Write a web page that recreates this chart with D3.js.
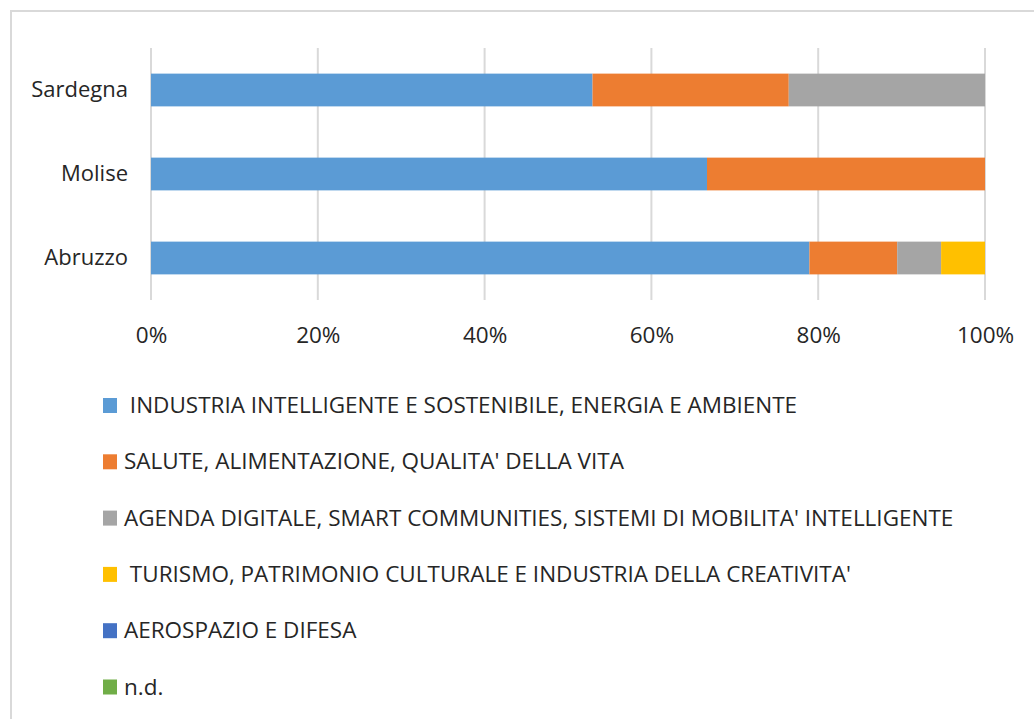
<!DOCTYPE html>
<html>
<head>
<meta charset="utf-8">
<script src="https://cdn.jsdelivr.net/npm/d3@7"></script>
<style>
  body { margin: 0; background: #fff; }
  svg text { font-family: "Open Sans", sans-serif; fill: #262626; }
</style>
</head>
<body>
<svg id="chart" width="1034" height="719"></svg>
<script>
const regions = ["Sardegna", "Molise", "Abruzzo"];
const seriesNames = [
  " INDUSTRIA INTELLIGENTE E SOSTENIBILE, ENERGIA E AMBIENTE",
  "SALUTE, ALIMENTAZIONE, QUALITA' DELLA VITA",
  "AGENDA DIGITALE, SMART COMMUNITIES, SISTEMI DI MOBILITA' INTELLIGENTE",
  " TURISMO, PATRIMONIO CULTURALE E INDUSTRIA DELLA CREATIVITA'",
  "AEROSPAZIO E DIFESA",
  "n.d."
];
const colors = ["#5b9bd5", "#ed7d31", "#a5a5a5", "#ffc000", "#4472c4", "#70ad47"];
// project counts per region, same order as seriesNames
const industria = [9, 2, 15];
const salute = [4, 1, 2];
const agenda = [4, 0, 1];
const turismo = [0, 0, 1];
const aerospazio = [0, 0, 0];
const nd = [0, 0, 0];
const xTicks = [0, 0.2, 0.4, 0.6, 0.8, 1];

const rows = regions.map((r, i) => ({
  region: r,
  s0: industria[i], s1: salute[i], s2: agenda[i],
  s3: turismo[i], s4: aerospazio[i], s5: nd[i]
}));
const keys = ["s0", "s1", "s2", "s3", "s4", "s5"];

const svg = d3.select("#chart");

// frame
svg.append("rect")
  .attr("x", 11).attr("y", 11)
  .attr("width", 1100).attr("height", 800)
  .attr("fill", "none")
  .attr("stroke", "#d9d9d9")
  .attr("stroke-width", 2);

const x = d3.scaleLinear().domain([0, 1]).range([151, 985]);
const y = d3.scaleBand().domain(regions).range([48, 300]).paddingInner(0.61).paddingOuter(0.305);

// gridlines
svg.append("g")
  .selectAll("line")
  .data(xTicks)
  .join("line")
  .attr("x1", d => x(d)).attr("x2", d => x(d))
  .attr("y1", 48).attr("y2", 300)
  .attr("stroke", "#d9d9d9")
  .attr("stroke-width", 2);

// bars
const stacked = d3.stack().keys(keys).offset(d3.stackOffsetExpand)(rows);
svg.append("g")
  .selectAll("g")
  .data(stacked)
  .join("g")
  .attr("fill", (d, i) => colors[i])
  .selectAll("rect")
  .data(d => d)
  .join("rect")
  .attr("x", d => x(d[0]))
  .attr("y", d => y(d.data.region))
  .attr("width", d => x(d[1]) - x(d[0]))
  .attr("height", y.bandwidth());

// x axis labels
const xAxis = svg.append("g")
  .attr("transform", "translate(0,300)")
  .call(d3.axisBottom(x).tickValues(xTicks).tickFormat(d3.format(".0%")).tickSize(0).tickPadding(27));
xAxis.select(".domain").remove();
xAxis.selectAll("text").style("font-size", "22.5px").attr("fill", "#262626");

// y axis labels
const yAxis = svg.append("g")
  .attr("transform", "translate(151,0)")
  .call(d3.axisLeft(y).tickSize(0).tickPadding(23));
yAxis.select(".domain").remove();
yAxis.selectAll("text").style("font-size", "22px").attr("fill", "#262626");

// legend
const legend = svg.append("g")
  .selectAll("g")
  .data(seriesNames)
  .join("g")
  .attr("transform", (d, i) => `translate(103,${405 + i * 56.3})`);
legend.append("rect")
  .attr("x", 0).attr("y", -7)
  .attr("width", 14).attr("height", 15)
  .attr("fill", (d, i) => colors[i]);
legend.append("text")
  .attr("x", 21).attr("y", 8)
  .style("font-size", "22.5px")
  .attr("xml:space", "preserve")
  .style("white-space", "pre")
  .text(d => d);
</script>
</body>
</html>
